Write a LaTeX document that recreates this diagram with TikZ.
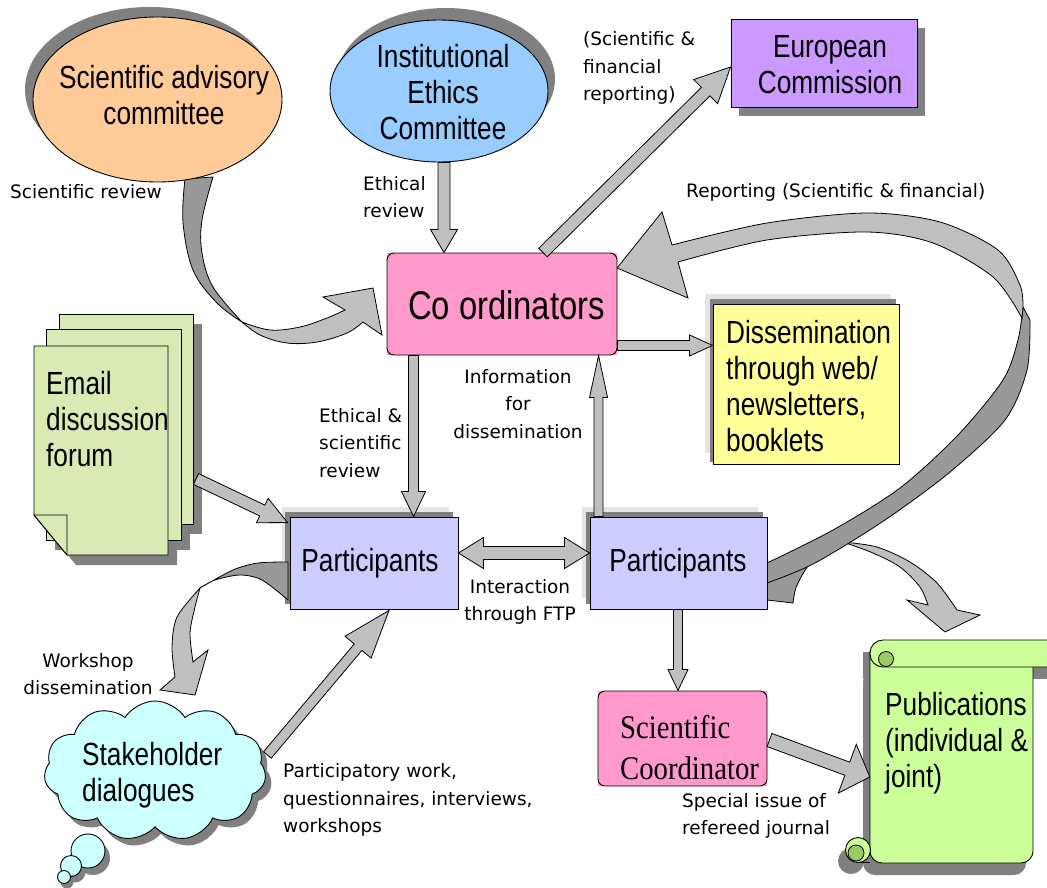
\documentclass[tikz,border=0pt]{standalone}
\usepackage{fontspec}
\setmainfont{Liberation Sans}
\newfontfamily\boxfont[FakeStretch=0.82]{Liberation Sans}
\newfontfamily\serfont[FakeStretch=0.87]{Liberation Serif}
\newfontfamily\labfont{DejaVu Sans}
\usetikzlibrary{calc,shapes.geometric,shapes.symbols}
\definecolor{cOrange}{HTML}{FFCC99}
\definecolor{cBlue}{HTML}{99CCFF}
\definecolor{cPurple}{HTML}{CC99FF}
\definecolor{cPink}{HTML}{FF99CC}
\definecolor{cYellow}{HTML}{FFFF99}
\definecolor{cLav}{HTML}{CCCCFF}
\definecolor{cCloud}{HTML}{CCFFFF}
\definecolor{cPub}{HTML}{CCFF99}
\definecolor{cPubDark}{HTML}{99CC66}
\definecolor{cPage}{HTML}{D9EAB5}
\definecolor{cArrow}{HTML}{C0C0C0}
\definecolor{cArrowDark}{HTML}{999999}
\definecolor{cShadow}{HTML}{808080}
\definecolor{cFrame}{HTML}{E4E4E4}
\newcommand\blockarrow[5]{%
  \coordinate (bas) at (#1);
  \coordinate (bae) at (#2);
  \coordinate (bah) at ($(bae)!#5!(bas)$);
  \filldraw[blk] ($(bas)!#3!90:(bae)$) -- ($(bah)!#3!-90:(bas)$) -- ($(bah)!#4!-90:(bas)$) -- (bae) -- ($(bah)!#4!90:(bas)$) -- ($(bah)!#3!90:(bas)$) -- ($(bas)!#3!-90:(bae)$) -- cycle;}
\newcommand\dblarrow[5]{%
  \coordinate (bas) at (#1);
  \coordinate (bae) at (#2);
  \coordinate (bah) at ($(bae)!#5!(bas)$);
  \coordinate (bat) at ($(bas)!#5!(bae)$);
  \filldraw[blk] (bas) -- ($(bat)!#4!90:(bae)$) -- ($(bat)!#3!90:(bae)$) -- ($(bah)!#3!-90:(bas)$) -- ($(bah)!#4!-90:(bas)$) -- (bae) -- ($(bah)!#4!90:(bas)$) -- ($(bah)!#3!90:(bas)$) -- ($(bat)!#3!-90:(bae)$) -- ($(bat)!#4!-90:(bae)$) -- cycle;}
\begin{document}
\begin{tikzpicture}[x=1pt,y=-1pt,
  mtext/.style={font=\boxfont\fontsize{32}{36}\selectfont, align=center, inner sep=0},
  ltext/.style={font=\labfont\fontsize{18.5}{27.5}\selectfont, inner sep=0},
  stext/.style={font=\serfont\fontsize{33}{41}\selectfont, align=left, inner sep=0},
  blk/.style={fill=cArrow, draw=black, line width=0.8pt, line join=miter},
  blkdark/.style={fill=cArrowDark, draw=black, line width=0.8pt},
  outl/.style={draw=black, line width=0.9pt, inner sep=0},
  page/.style={fill=cPage, draw=black, line width=0.9pt},
  shadowfill/.style={fill=cShadow},
  framefill/.style={fill=cFrame},
  ghost/.style={inner sep=0, draw=none},
]
\useasboundingbox (0,0) rectangle (1047,888);

% ---------- shadows and frames ----------
\fill[shadowfill] (149.5,89.5) ellipse [x radius=124.5, y radius=82.5];
\fill[shadowfill] (446,79) ellipse [x radius=109, y radius=71];
\fill[shadowfill] (739,28) rectangle (925,116);
\fill[framefill] (705,294) rectangle (891,453);
\fill[shadowfill] (710,299) rectangle (896,462);
\fill[framefill] (282,507) rectangle (449,598);
\fill[shadowfill] (285,512) rectangle (453,604);
\fill[framefill] (582,507) rectangle (758,598);
\fill[shadowfill] (586,512) rectangle (763,604);
% pages shadow
\fill[shadowfill] (68,324) rectangle (202,534);
\fill[shadowfill] (55,339) rectangle (190,550);
\fill[shadowfill] (43,356) -- (177,356) -- (177,565) -- (76,565) -- (43,525) -- cycle;
% scroll shadow
\fill[shadowfill] (863,652) rectangle (1047,679);
\fill[shadowfill, rounded corners=12] (863,670) -- (863,875) -- (1026,875) -- (1026,670) -- cycle;
\fill[shadowfill] (851,861) circle (13);
% cloud shadow
\node[cloud, cloud puffs=11, cloud puff arc=115, aspect=1.6, minimum width=222, minimum height=140, fill=cShadow] (shs) at (161,778) {};
\fill[shadowfill] (93,858) circle (17);
\fill[shadowfill] (75,872) circle (10.5);
\fill[shadowfill] (67,882) circle (6.5);

% ---------- curved arrows ----------
% scientific review
\filldraw[blkdark] plot[smooth, tension=0.6] coordinates {(185,179) (183,222) (193,270) (217,303) (242,322)} -- plot[smooth, tension=0.6] coordinates {(242,322) (213,287) (202,253) (202,220) (213,177)} -- cycle;
\filldraw[blk] plot[smooth, tension=0.6] coordinates {(242,322) (270,330) (300,327) (327,318) (345,310)} -- (323,297) -- (373,288) -- (382,335) -- plot[smooth, tension=0.6] coordinates {(363,322) (347,333) (317,342) (287,343) (260,335) (242,322)} -- cycle;
% workshop dissemination
\filldraw[blkdark] plot[smooth] coordinates {(288,562) (258,563) (233,570) (200,588)} -- plot[smooth] coordinates {(200,588) (215,580) (240,575) (262,580) (288,600)} -- cycle;
\filldraw[blk] plot[smooth] coordinates {(200,588) (177,617) (172,647) (175,677)} -- (160,690) -- (195,695) -- (208,650) -- plot[smooth] coordinates {(193,662) (190,633) (195,607) (200,588)} -- cycle;
% publications arrow
\filldraw[blkdark] (767,583) -- (843,542) -- plot[smooth] coordinates {(843,542) (813,560) (797,585) (793,603)} -- (767,600) -- cycle;
\filldraw[blk] plot[smooth] coordinates {(843,542) (877,547) (910,562) (937,583) (957,610)} -- (980,615) -- (945,632) -- (907,600) -- plot[smooth] coordinates {(928,605) (920,587) (900,567) (873,553) (843,542)} -- cycle;
% reporting arrow
\filldraw[blkdark] plot[smooth] coordinates {(767,563) (833,530) (900,488) (958,435) (1003,380) (1018,340) (1023,307)} -- plot[smooth] coordinates {(1030,320) (1027,370) (1005,420) (950,472) (885,520) (815,563) (767,583)} -- cycle;
\filldraw[blk] plot[smooth] coordinates {(1023,307) (1020,285) (998,250) (940,222) (867,213) (767,223) (672,245)} -- (662,212) -- (617,268) -- (688,298) -- plot[smooth] coordinates {(678,262) (767,240) (867,232) (933,243) (993,277) (1022,318)} -- cycle;

% ---------- nodes ----------
\node[outl, ellipse, fill=cOrange, minimum width=249, minimum height=165] (sac) at (157.5,99.5) {};
\node[outl, ellipse, fill=cBlue, minimum width=218, minimum height=142] (iec) at (439,91) {};
\node[outl, fill=cPurple, minimum width=186, minimum height=88] (ec) at (824,63) {};
\fill[cPink] (387,253) rectangle (617,355);
\node[outl, fill=cPink, rounded corners=7, minimum width=230, minimum height=102] (coord) at (502,304) {};
\node[outl, fill=cYellow, minimum width=186, minimum height=160] (diss) at (806,384) {};
\node[outl, fill=cLav, minimum width=168, minimum height=92] (pl) at (374,563) {};
\node[outl, fill=cLav, minimum width=177, minimum height=92] (pr) at (678.5,563) {};
\fill[cPink] (598,691) rectangle (767,786);
\node[outl, fill=cPink, rounded corners=7, minimum width=169, minimum height=95] (scc) at (682.5,738.5) {};

% pages
\filldraw[page] (59,314) rectangle (193,524);
\filldraw[page] (46,329) rectangle (181,540);
\filldraw[page] (34,346) -- (168,346) -- (168,555) -- (67,555) -- (34,515) -- cycle;
\filldraw[page] (34,515) -- (67,515) -- (67,555) -- cycle;
\node[ghost, minimum width=134, minimum height=209] (email) at (101,450.5) {};
\coordinate (emailout) at (196,479);

% scroll
\filldraw[fill=cPub, draw=black, line width=0.9pt] (1033,660) [rounded corners=12] -- (1033,863) -- (870,863) [sharp corners] -- (870,650);
\fill[cPub] (871,652) rectangle (1032,668);
\filldraw[fill=cPub, draw=black, line width=0.9pt] (858,850) circle (12.5);
\filldraw[fill=cPubDark, draw=black, line width=0.8pt] (856,853) circle (8);
\draw[line width=0.9pt] (858,862.5) -- (870,862.5);
\filldraw[fill=cPub, draw=black, line width=0.9pt, rounded corners=13] (1060,640) -- (870,640) -- (870,667) -- (1060,667);
\filldraw[fill=cPubDark, draw=black, line width=0.8pt] (886,659) circle (7.5);
\node[ghost, minimum width=163, minimum height=223] (pub) at (951.5,751.5) {};

% cloud
\node[cloud, cloud puffs=11, cloud puff arc=115, aspect=1.6, minimum width=222, minimum height=140, fill=cCloud, draw=black, line width=0.9pt] (sh) at (155,771) {};
\filldraw[fill=cCloud, draw=black, line width=0.9pt] (88,851) circle (17);
\filldraw[fill=cCloud, draw=black, line width=0.9pt] (71,866) circle (10.5);
\filldraw[fill=cCloud, draw=black, line width=0.9pt] (64,877) circle (6.5);

% ---------- straight block arrows ----------
\coordinate (er1) at ($(iec.south)+(5,0)$);
\blockarrow{er1}{er1 |- coord.north}{6pt}{13.5pt}{23pt}
\blockarrow{$(coord.north)+(41,0)$}{$(ec.west)+(0,4)$}{6pt}{17pt}{35pt}
\coordinate (cd1) at ($(coord.south east)+(0,-10)$);
\blockarrow{cd1}{cd1 -| diss.west}{5pt}{10.5pt}{23pt}
\coordinate (cp1) at ($(coord.south west)+(27,0)$);
\blockarrow{cp1}{cp1 |- pl.north}{5pt}{12pt}{25pt}
\coordinate (pc1) at ($(pr.north west)+(9,0)$);
\blockarrow{pc1}{pc1 |- coord.south}{4.5pt}{9pt}{42pt}
\coordinate (pp1) at ($(pl.east)+(0,-10)$);
\dblarrow{pp1}{pp1 -| pr.west}{6.5pt}{15.5pt}{25pt}
\coordinate (ps1) at ($(pr.south)+(-0.5,0)$);
\blockarrow{ps1}{ps1 |- scc.north}{4.5pt}{10pt}{21pt}
\blockarrow{emailout}{$(pl.north west)+(-2,6)$}{6pt}{13.5pt}{28pt}
\blockarrow{$(sh.east)+(2,-16)$}{$(pl.south)+(15,1)$}{5pt}{17pt}{48pt}
\blockarrow{$(scc.east)+(2,1.5)$}{$(pub.west)+(0,25.5)$}{7pt}{26pt}{24pt}

% ---------- texts ----------
\node[mtext] (sact) at (164,95) {Scientific advisory\\committee};
\node[mtext] (iect) at (443,92) {Institutional\\Ethics\\Committee};
\node[mtext] (ect) at (830,65) {European\\Commission};
\node[font=\boxfont\fontsize{40}{44}\selectfont, inner sep=0] (coordt) at (506.5,305) {Co ordinators};
\node[mtext, align=left, anchor=west] (disst) at (726,386) {Dissemination\\through web/\\newsletters,\\booklets};
\node[mtext, align=left, anchor=west] (emailt) at (46,419) {Email\\discussion\\forum};
\node[mtext] (plt) at (370,563) {Participants};
\node[mtext] (prt) at (678,563) {Participants};
\node[mtext, align=left, anchor=west] (sht) at (82,775) {Stakeholder\\dialogues};
\node[stext, anchor=west] (scct) at (620,748) {Scientific\\Coordinator};
\node[mtext, align=left, anchor=west] (pubt) at (885,743) {Publications\\(individual \&\\joint)};

\node[ltext, anchor=west] (l1) at (10,192) {Scientific review};
\node[ltext, align=left, anchor=west] (l2) at (363,197) {Ethical\\review};
\node[ltext, align=left, anchor=west] (l3) at (583,68) {(Scientific \&\\financial\\reporting)};
\node[ltext, anchor=west] (l4) at (686,192) {Reporting (Scientific \& financial)};
\node[ltext, align=center] (l5) at (518,404) {Information\\for\\dissemination};
\node[ltext, align=left, anchor=west] (l6) at (319,443) {Ethical \&\\scientific\\review};
\node[ltext, align=center] (l7) at (520,602) {Interaction\\through FTP};
\node[ltext, align=center] (l8) at (88,674) {Workshop\\dissemination};
\node[ltext, align=left, anchor=west] (l9) at (283,800) {Participatory work,\\questionnaires, interviews,\\workshops};
\node[ltext, align=left, anchor=west] (l10) at (682,816) {Special issue of\\refereed journal};
\end{tikzpicture}
\end{document}
